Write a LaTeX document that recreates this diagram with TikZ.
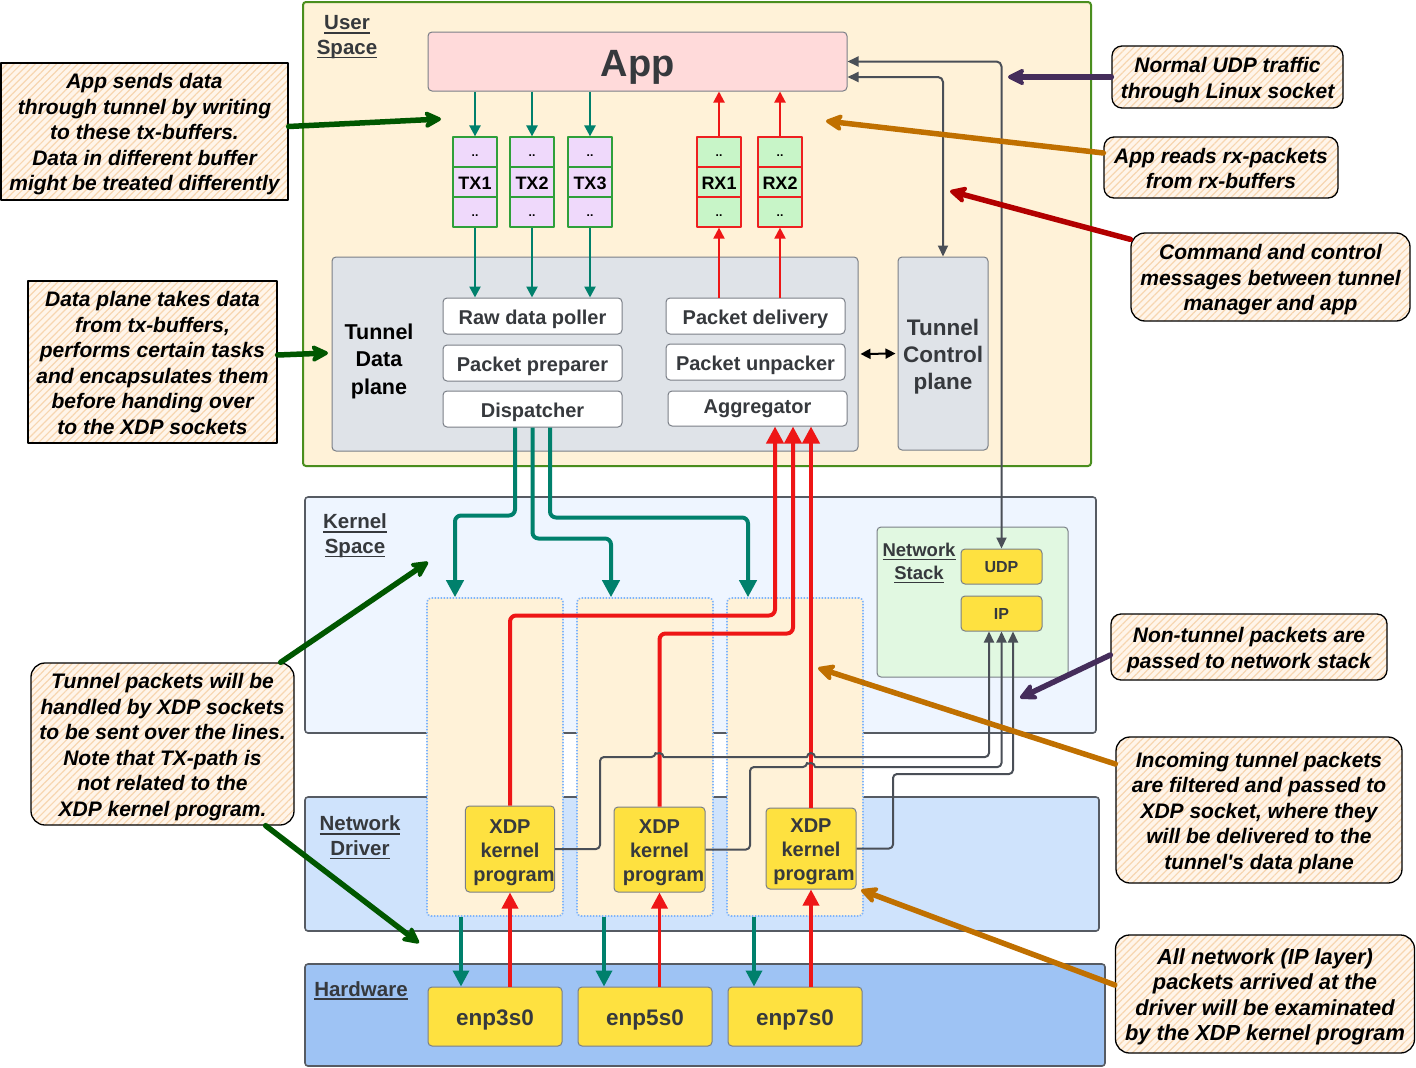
\documentclass[tikz,border=0pt]{standalone}
\usepackage{fontspec}
\setmainfont{Liberation Sans}
\usetikzlibrary{arrows.meta,patterns.meta,calc}
\definecolor{ctext}{HTML}{36393D}
\definecolor{cgreyb}{HTML}{7A7F87}
\definecolor{clayerb}{HTML}{565B63}
\definecolor{cgreenb}{HTML}{4A8E1E}
\definecolor{cuser}{HTML}{FFF2D8}
\definecolor{ckern}{HTML}{EEF5FF}
\definecolor{cdrv}{HTML}{CFE3FC}
\definecolor{chw}{HTML}{9EC3F4}
\definecolor{cstack}{HTML}{E1F8E1}
\definecolor{cplane}{HTML}{DFE3E8}
\definecolor{capp}{HTML}{FFDADA}
\definecolor{ctx}{HTML}{EFD9FB}
\definecolor{ctxb}{HTML}{2FA03A}
\definecolor{crx}{HTML}{C8F5C8}
\definecolor{crxb}{HTML}{EE2020}
\definecolor{cyel}{HTML}{FEE140}
\definecolor{cdot}{HTML}{7EB4FB}
\definecolor{cteal}{HTML}{00806C}
\definecolor{cred}{HTML}{EE1616}
\definecolor{cgline}{HTML}{4A4F57}
\definecolor{cnote}{HTML}{FFF5EA}
\definecolor{chatch}{HTML}{F7D6B0}
\definecolor{cdg}{HTML}{005700}
\definecolor{cpur}{HTML}{452D5B}
\definecolor{corg}{HTML}{C07000}
\definecolor{cdred}{HTML}{B20000}
\newlength\ulwd
\newcommand\ulbox[1]{\settowidth\ulwd{#1}\leavevmode\rlap{\rule[-4pt]{\ulwd}{1.8pt}}#1}
\newcommand\fs{\rule{0pt}{1.05em}}
\newcommand\ls{\rule[-0.25em]{0pt}{0.25em}}
\tikzset{
  box/.style={rectangle, inner sep=0pt, align=center},
  layer/.style={box, rounded corners=3pt, draw=clayerb, line width=1.6pt},
  lbl/.style={box, text=ctext, font=\bfseries\fontsize{20.5}{24.5}\selectfont},
  comp/.style={box, rounded corners=4pt, draw=cgreyb, line width=1pt, fill=white, text=ctext, font=\bfseries\fontsize{20}{24}\selectfont},
  plane/.style={box, rounded corners=4pt, draw=cgreyb, line width=1pt, fill=cplane},
  ybox/.style={box, rounded corners=4pt, draw=cgreyb, line width=1pt, fill=cyel, text=ctext},
  txc/.style={box, draw=ctxb, line width=1.2pt, fill=ctx, minimum width=44pt, minimum height=30pt, font=\bfseries\fontsize{18}{20}\selectfont},
  rxc/.style={txc, draw=crxb, fill=crx},
  col/.style={box, rounded corners=4pt, draw=cdot, dash pattern=on 1.5pt off 1.5pt, line width=1.6pt, fill=cuser, minimum width=136pt, minimum height=318pt},
  note/.style={box, draw=black, line width=1.3pt, preaction={fill=cnote}, pattern={Lines[angle=45,distance=5pt,line width=1.2pt]}, pattern color=chatch, text=black, font=\bfseries\itshape\fontsize{21}{25.5}\selectfont},
  rnote/.style={note, rounded corners=14pt},
  tealthin/.style={draw=cteal, line width=2.5pt, -{Triangle[length=11pt,width=11pt]}},
  redthin/.style={draw=cred, line width=2pt, -{Triangle[length=11pt,width=11pt]}},
  tealthick/.style={draw=cteal, line width=4pt, rounded corners=6pt, -{Triangle[length=17pt,width=17pt]}},
  redthick/.style={draw=cred, line width=4pt, rounded corners=6pt, -{Triangle[length=17pt,width=17pt]}},
  tealmid/.style={draw=cteal, line width=3.5pt, -{Triangle[length=16pt,width=16pt]}},
  redmid/.style={draw=cred, line width=3.5pt, -{Triangle[length=16pt,width=16pt]}},
  greyl/.style={draw=cgline, line width=2pt, -{Triangle[length=11pt,width=10pt]}},
  ann/.style={line width=5.5pt, line cap=round, -{Stealth[length=21pt,width=21pt,inset=6pt,round]}},
  dots/.style={font=\bfseries\fontsize{12}{12}\selectfont}
}
\begin{document}
\begin{tikzpicture}[x=1pt,y=-1pt,line join=round]
\useasboundingbox[fill=white] (0,0) rectangle (1416,1068);

% layers
\node[layer, draw=cgreenb, line width=2pt, fill=cuser, minimum width=788pt, minimum height=464pt] (user) at (697,234) {};
\node[layer, fill=ckern, minimum width=791pt, minimum height=236pt] (kern) at (700.5,615) {};
\node[layer, fill=cdrv, minimum width=794pt, minimum height=134pt] (drv) at (702,864) {};
\node[layer, fill=chw, minimum width=800pt, minimum height=102pt] (hw) at (705,1015) {};

% network stack
\node[box, rounded corners=4pt, draw=cgreyb, line width=1pt, fill=cstack, minimum width=191pt, minimum height=150pt] (stack) at (972.5,602) {};
\node[ybox, minimum width=81pt, minimum height=35pt, font=\bfseries\fontsize{16}{19}\selectfont] (udp) at (1001.5,566.5) {\fs UDP\ls};
\node[ybox, minimum width=81pt, minimum height=35pt, font=\bfseries\fontsize{16}{19}\selectfont] (ip) at (1001.5,613.5) {\fs IP\ls};

% data plane
\node[plane, minimum width=526pt, minimum height=194pt] (dplane) at (595,354) {};
\node[box, text=black, font=\bfseries\fontsize{21.5}{27.5}\selectfont] (dplbl) at (379,358) {\fs Tunnel\\Data\\plane\ls};
\node[comp, minimum width=179pt, minimum height=36pt] (poller) at (532.5,316) {\fs Raw data poller\ls};
\node[comp, minimum width=179pt, minimum height=36pt] (prep) at (532.5,363) {\fs Packet preparer\ls};
\node[comp, minimum width=179pt, minimum height=36pt] (disp) at (532.5,409) {\fs Dispatcher\ls};
\node[comp, minimum width=179pt, minimum height=36pt] (deliv) at (755.5,316) {\fs Packet delivery\ls};
\node[comp, minimum width=179pt, minimum height=36pt] (unpack) at (755.5,362) {\fs Packet unpacker\ls};
\node[comp, minimum width=179pt, minimum height=35pt] (agg) at (757.5,408.5) {\fs\raisebox{3pt}{Aggregator}\ls};
\node[plane, text=ctext, minimum width=90pt, minimum height=193pt, font=\bfseries\fontsize{22.5}{27}\selectfont] (ctrl) at (943,353.5) {\fs Tunnel\\Control\\plane\ls};

% app
\node[box, rounded corners=4pt, draw=cgreyb, line width=1pt, fill=capp, text=ctext, minimum width=419pt, minimum height=59pt, font=\bfseries\fontsize{38}{40}\selectfont] (app) at (637.5,61.5) {\fs App\ls};

% buffers
\foreach \n/\x in {1/475,2/532,3/590}{
  \node[txc, dots] (txa\n) at (\x,152) {\fs ..\ls};
  \node[txc] (tx\n) at (\x,182) {\fs TX\n\ls};
  \node[txc, dots] (txb\n) at (\x,212) {\fs ..\ls};
}
\foreach \n/\x in {1/719,2/780}{
  \node[rxc, dots] (rxa\n) at (\x,152) {\fs ..\ls};
  \node[rxc] (rx\n) at (\x,182) {\fs RX\n\ls};
  \node[rxc, dots] (rxb\n) at (\x,212) {\fs ..\ls};
}

% XDP columns and programs
\node[col] (col1) at (495,757) {};
\node[col] (col2) at (645,757) {};
\node[col] (col3) at (795,757) {};
\node[ybox, minimum width=88pt, minimum height=86pt, font=\bfseries\fontsize{20}{24}\selectfont] (xdp1) at (510,849) {\fs XDP\\kernel\\\hspace*{8pt}program\ls};
\node[ybox, minimum width=91pt, minimum height=85pt, font=\bfseries\fontsize{20}{24}\selectfont] (xdp2) at (659.5,849.5) {\fs XDP\\kernel\\\hspace*{8pt}program\ls};
\node[ybox, minimum width=90pt, minimum height=81pt, font=\bfseries\fontsize{20}{24}\selectfont] (xdp3) at (811,848.5) {\fs XDP\\kernel\\\hspace*{6pt}program\ls};

% NICs
\node[ybox, minimum width=134pt, minimum height=59pt, font=\bfseries\fontsize{22.5}{26}\selectfont] (enp1) at (495,1016.5) {\fs enp3s0\ls};
\node[ybox, minimum width=134pt, minimum height=59pt, font=\bfseries\fontsize{22.5}{26}\selectfont] (enp2) at (645,1016.5) {\fs enp5s0\ls};
\node[ybox, minimum width=134pt, minimum height=59pt, font=\bfseries\fontsize{22.5}{26}\selectfont] (enp3) at (795,1016.5) {\fs enp7s0\ls};

% layer labels
\node[lbl] (userlbl) at (347,34) {\fs\ulbox{User}\\\ulbox{Space}\ls};
\node[lbl] (kernlbl) at (355,533) {\fs\ulbox{Kernel}\\\ulbox{Space}\ls};
\node[lbl] (drvlbl) at (360,835) {\fs\ulbox{Network}\\\ulbox{Driver}\ls};
\node[lbl] (hwlbl) at (361,988) {\fs\ulbox{Hardware}\ls};
\node[lbl, font=\bfseries\fontsize{18.5}{23}\selectfont] (stacklbl) at (919,560.5) {\fs\ulbox{Network}\\\ulbox{Stack}\ls};

% App <-> buffers
\foreach \n in {1,2,3}{
  \draw[tealthin] (app.south -| txa\n) -- (txa\n.north);
  \draw[tealthin] (txb\n.south) -- (txb\n.south |- poller.north);
}
\foreach \n in {1,2}{
  \draw[redthin] (deliv.north -| rxb\n) -- (rxb\n.south);
  \draw[redthin] (rxa\n.north) -- (rxa\n.north |- app.south);
}

% dispatcher -> XDP sockets
\draw[tealthick] ([xshift=-17.5pt]disp.south) -- ++(0,88) -| ([xshift=-40pt]col1.north);
\draw[tealthick] (disp.south) -- ++(0,111) -| ([xshift=-34pt]col2.north);
\draw[tealthick] ([xshift=17.5pt]disp.south) -- ++(0,90) -| ([xshift=-47pt]col3.north);

% XDP -> aggregator
\draw[redthick] (xdp1.north) -- ++(0,-190) -| ([xshift=17.5pt]agg.south);
\draw[redthick] (xdp2.north) -- ++(0,-173) -| ([xshift=35.5pt]agg.south);
\draw[redthick] (xdp3.north) -- (xdp3.north |- agg.south);

% NIC <-> XDP
\draw[tealmid] ([xshift=-34pt]col1.south) -- ([xshift=-34pt]col1.south |- enp1.north);
\draw[tealmid] ([xshift=-41pt]col2.south) -- ([xshift=-41pt]col2.south |- enp2.north);
\draw[tealmid] ([xshift=-41pt]col3.south) -- ([xshift=-41pt]col3.south |- enp3.north);
\draw[redmid] (enp1.north -| xdp1) -- (xdp1.south);
\draw[redmid] (enp2.north -| xdp2) -- (xdp2.south);
\draw[redmid] (enp3.north -| xdp3) -- (xdp3.south);

% grey connectors
\draw[greyl, {Triangle[length=11pt,width=10pt]}-{Triangle[length=11pt,width=10pt]}, rounded corners=5pt] (app.east) -| (udp.north);
\draw[greyl, {Triangle[length=11pt,width=10pt]}-{Triangle[length=11pt,width=10pt]}, rounded corners=5pt] ([yshift=-15.5pt]app.east) -| (ctrl.north);
\draw[draw=black, line width=2pt, {Triangle[length=10pt,width=10pt]}-{Triangle[length=10pt,width=10pt]}] ([xshift=2pt]dplane.east) -- ([xshift=-2pt]ctrl.west);

\draw[greyl] (xdp1.east) [rounded corners=4pt] -- (600,849) -- (600,757) -- (655.5,757) [sharp corners] arc[start angle=180,end angle=0,radius=4pt] -- (807,757) arc[start angle=180,end angle=0,radius=4pt] [rounded corners=4pt] -- (989,757) -- ([xshift=-12.5pt]ip.south);
\draw[greyl] (xdp2.east) [rounded corners=4pt] -- (750,849.5) -- (750,767) -- (807,767) [sharp corners] arc[start angle=180,end angle=0,radius=4pt] [rounded corners=4pt] -- (1001.5,767) -- (ip.south);
\draw[greyl] (xdp3.east) [rounded corners=4pt] -- (893,848.5) -- (893,774) -- (1013,774) -- ([xshift=11.5pt]ip.south);

% annotations
\node[note, minimum width=287pt, minimum height=137pt] (a1) at (144.5,131.5) {\fs App sends data\\through tunnel by writing\\to these tx-buffers.\\Data in different buffer\\might be treated differently\ls};
\node[note, minimum width=249pt, minimum height=162pt] (a2) at (152.5,362) {\fs Data plane takes data\\from tx-buffers,\\performs certain tasks\\and encapsulates them\\before handing over\\to the XDP sockets\ls};
\node[rnote, minimum width=263pt, minimum height=162pt] (a3) at (162.5,744) {\fs Tunnel packets will be\\handled by XDP sockets\\to be sent over the lines.\\Note that TX-path is\\not related to the\\XDP kernel program.\ls};
\node[rnote, rounded corners=10pt, minimum width=231pt, minimum height=62pt] (a4) at (1227.5,77) {\fs Normal UDP traffic\\through Linux socket\ls};
\node[rnote, rounded corners=10pt, minimum width=234pt, minimum height=61pt] (a5) at (1221,167.5) {\fs App reads rx-packets\\from rx-buffers\ls};
\node[rnote, minimum width=279pt, minimum height=88pt] (a6) at (1270.5,277) {\fs Command and control\\messages between tunnel\\manager and app\ls};
\node[rnote, rounded corners=10pt, minimum width=276pt, minimum height=66pt] (a7) at (1249,647) {\fs Non-tunnel packets are\\passed to network stack\ls};
\node[rnote, minimum width=286pt, minimum height=146pt] (a8) at (1259,810) {\fs Incoming tunnel packets\\are filtered and passed to\\XDP socket, where they\\will be delivered to the\\tunnel\textquotesingle s data plane\ls};
\node[rnote, minimum width=299pt, minimum height=118pt, font=\bfseries\itshape\fontsize{21.8}{25.5}\selectfont] (a9) at (1265,994) {\fs All network (IP layer)\\packets arrived at the\\driver will be examinated\\by the XDP kernel program\ls};

\coordinate (g1t) at (441,119);
\coordinate (g2t) at (328,353);
\coordinate (g3t) at (428,562);
\coordinate (g4t) at (419,943);
\coordinate (p1t) at (1008,77);
\coordinate (o1t) at (826,121);
\coordinate (r1t) at (950,191);
\coordinate (p2t) at (1020,698);
\coordinate (o2t) at (818,668);
\coordinate (o3t) at (861,890);

\draw[ann, cdg] ([yshift=5pt]a1.east) -- (g1t);
\draw[ann, cdg] ([yshift=7pt]a2.east) -- (g2t);
\draw[ann, cdg] ([xshift=-14pt]a3.north east) -- (g3t);
\draw[ann, cdg] ([xshift=-29pt]a3.south east) -- (g4t);
\draw[ann, cpur] (a4.west) -- (p1t);
\draw[ann, corg] ([yshift=14.5pt]a5.west) -- (o1t);
\draw[ann, cdred] ([yshift=-7pt]a6.north west) -- (r1t);
\draw[ann, cpur] ([yshift=-8pt]a7.west) -- (p2t);
\draw[ann, corg] ([yshift=46pt]a8.west) -- (o2t);
\draw[ann, corg] ([yshift=9pt]a9.west) -- (o3t);
\end{tikzpicture}
\end{document}
